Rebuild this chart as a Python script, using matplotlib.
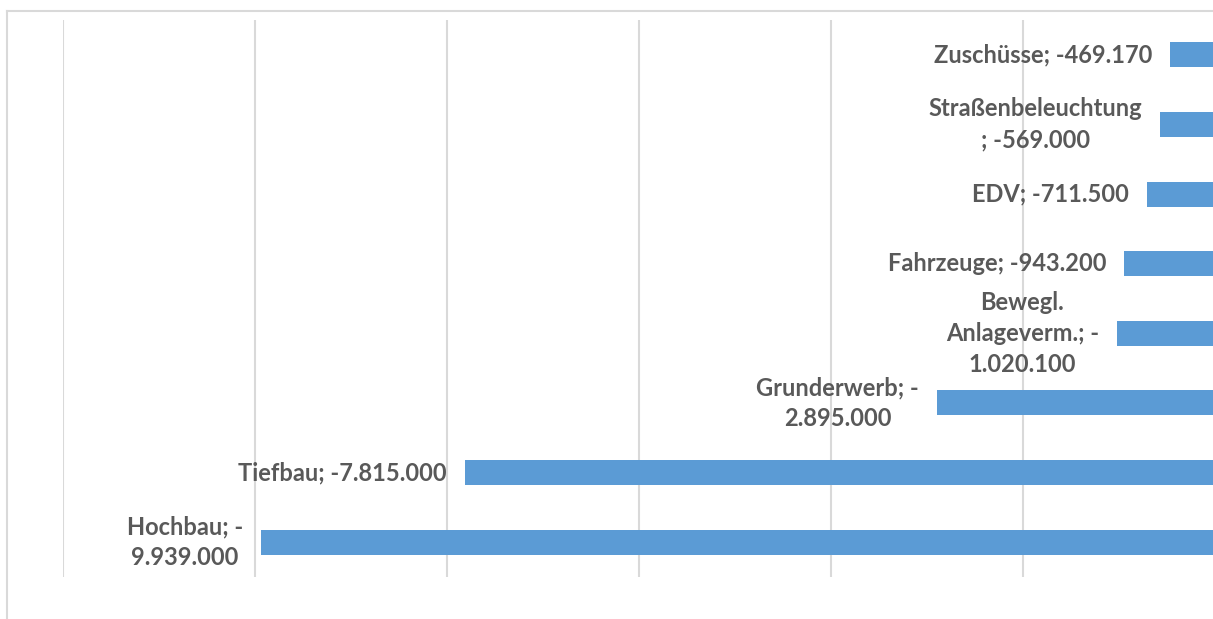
import matplotlib
matplotlib.use('Agg')

import matplotlib.pyplot as plt
from matplotlib.lines import Line2D

# Daten (von unten nach oben)
kategorien = ['Hochbau', 'Tiefbau', 'Grunderwerb', 'Bewegl.\nAnlageverm.',
              'Fahrzeuge', 'EDV', 'Straßenbeleuchtung', 'Zuschüsse']
werte = [-9939000, -7815000, -2895000, -1020100, -943200, -711500, -569000, -469170]
beschriftungen = ['Hochbau; -\n9.939.000', 'Tiefbau; -7.815.000', 'Grunderwerb; -\n2.895.000',
                  'Bewegl.\nAnlageverm.; -\n1.020.100', 'Fahrzeuge; -943.200',
                  'EDV; -711.500', 'Straßenbeleuchtung\n; -569.000', 'Zuschüsse; -469.170']

farbe_balken = '#5b9bd5'
farbe_text = '#595959'
farbe_gitter = '#d9d9d9'

plt.rcParams['font.family'] = ['Lato', 'DejaVu Sans']

W, H = 1213, 619
fig = plt.figure(figsize=(W / 100, H / 100), dpi=100)

# Achsenbereich: -12 Mio. bei x=63, 0 bei x=1215 (rechts abgeschnitten)
x0, x1 = 63, 1215
y_top, y_bot = 20, 577
ax = fig.add_axes([x0 / W, (H - y_bot) / H, (x1 - x0) / W, (y_bot - y_top) / H])

pos = list(range(len(werte)))
ax.barh(pos, werte, height=0.36, color=farbe_balken, zorder=3)

ax.set_xlim(-12000000, 0)
ax.set_ylim(-0.5, len(werte) - 0.5)
ax.set_xticks(range(-12000000, 1, 2000000))
ax.xaxis.grid(True, color=farbe_gitter, linewidth=1.5, zorder=0)
ax.tick_params(left=False, bottom=False, labelleft=False, labelbottom=False)
for s in ax.spines.values():
    s.set_visible(False)

for p, v, txt in zip(pos, werte, beschriftungen):
    ax.annotate(txt, xy=(v, p), xytext=(-13, 0), textcoords='offset points',
                ha='right', va='center', multialignment='center',
                fontsize=17, fontweight='bold', color=farbe_text,
                linespacing=1.42, zorder=4)

# Diagrammrahmen (oben und links sichtbar)
fig.add_artist(Line2D([7 / W, 1.0], [1 - 11 / H, 1 - 11 / H], transform=fig.transFigure,
                      color=farbe_gitter, linewidth=1.5))
fig.add_artist(Line2D([7 / W, 7 / W], [0, 1 - 11 / H], transform=fig.transFigure,
                      color=farbe_gitter, linewidth=1.5))

fig.savefig('out.png', dpi=100)
